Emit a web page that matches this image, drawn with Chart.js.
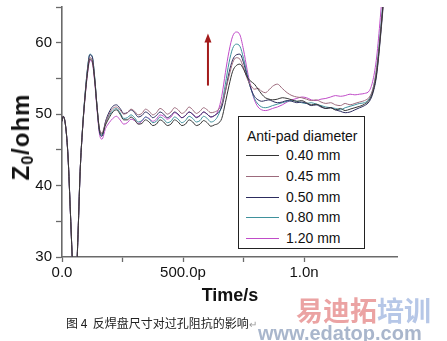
<!DOCTYPE html>
<html>
<head>
<meta charset="utf-8">
<script src="https://cdn.jsdelivr.net/npm/chart.js@4/dist/chart.umd.min.js"></script>
<style>
  html, body { margin: 0; padding: 0; background: #fff; }
  #wrap { position: relative; width: 447px; height: 341px; overflow: hidden; font-family: Arial, "Liberation Sans", sans-serif; }
  #chart { position: absolute; left: 0; top: 0; }
  .ov { position: absolute; white-space: nowrap; }
  #ytitle { left: 22px; top: 137px; font-weight: bold; font-size: 24px; letter-spacing: 1px; color: #111;
            transform: translate(-50%, -50%) rotate(-90deg); }
  #ytitle sub { font-size: 16px; vertical-align: -4px; }
  #xtitle { left: 230px; top: 295px; font-weight: bold; font-size: 18px; color: #111; transform: translate(-50%, -50%); }
  #legend { position: absolute; left: 238px; top: 116px; width: 127px; height: 133px; box-sizing: border-box;
            border: 1px solid #222; background: #fff; }
  #legend .t { position: absolute; left: 8px; top: 11px; font-size: 14px; color: #111; white-space: nowrap; }
  #legend .row { position: absolute; left: 7px; width: 110px; height: 16px; font-size: 14px; color: #111; white-space: nowrap; }
  #legend .row i { position: absolute; left: 0; top: 8px; width: 33px; height: 0; border-top: 1px solid; }
  #legend .row span { position: absolute; left: 40px; top: 0; white-space: nowrap; }
  #caption { left: 66px; top: 314px; font-family: "Noto Sans CJK SC", sans-serif; font-size: 12px; color: #222; }
  #caption em { font-style: normal; color: #999; font-size: 10px; }
  #wm1 { left: 296px; top: 295px; font-family: "Noto Sans CJK SC", sans-serif; font-weight: bold; font-size: 27px; line-height: 30px; opacity: 0.5; }
  #wm2 { left: 258px; top: 323px; font-weight: bold; font-size: 20px; line-height: 20px; color: #a9b6cc; }
</style>
</head>
<body>
<div id="wrap">
  <canvas id="chart" width="447" height="341"></canvas>
  <div class="ov" id="ytitle">Z<sub>0</sub>/ohm</div>
  <div class="ov" id="xtitle">Time/s</div>
  <div id="legend"></div>
  <div class="ov" id="caption">图 4&nbsp; 反焊盘尺寸对过孔阻抗的影响<em>↵</em></div>
  <div class="ov" id="wm1"><span style="color:#d84848">易迪拓</span><span style="color:#6f8fcf">培训</span></div>
  <div class="ov" id="wm2">www.edatop.com</div>
</div>
<script>
/* ---------- data (time in ps, impedance in ohm) ---------- */
const timePs = [0, 5, 15, 25, 35, 45, 55, 65, 75, 85, 95, 105, 115, 125, 135, 145, 155, 165,
  180, 195, 210, 225, 240, 255, 270, 285, 300, 315, 330, 345, 360, 375, 390, 405, 420, 435,
  450, 465, 480, 495, 510, 525, 540, 555, 570, 585, 600, 615, 630,
  645, 660, 675, 690, 705, 720, 735, 750, 765, 780, 795, 810, 825, 840, 855, 870,
  890, 910, 930, 950, 970, 990, 1010, 1030, 1050, 1070, 1090, 1110, 1130, 1150, 1170, 1190, 1210, 1230, 1250, 1270,
  1285, 1300, 1315, 1330, 1345];

const z040 = [49.0, 49.7, 48.3, 44.0, 36.0, 28.0, 24.0, 32.0, 42.0, 48.0, 52.3, 55.7, 57.7, 57.4, 54.8, 50.9, 47.8, 47.2,
  48.5, 49.5, 50.3, 50.6, 50.0, 49.2, 49.2, 49.6, 49.2, 48.6, 48.7, 49.2, 48.9, 48.4, 48.6, 49.2, 48.9, 48.4,
  48.6, 49.2, 48.9, 48.4, 48.6, 49.2, 48.9, 48.4, 48.6, 49.1, 48.8, 48.3, 48.5,
  48.7, 49.4, 51.6, 54.0, 56.0, 56.8, 57.0, 56.3, 55.2, 54.6, 54.2, 53.5, 52.8, 52.3, 52.1, 52.0,
  52.1, 52.3, 52.2, 52.0, 51.8, 51.9, 51.6, 51.3, 51.4, 51.1, 50.8, 50.9, 50.6, 50.8, 50.5, 50.7, 50.9, 51.1, 51.4, 52.0,
  53.2, 55.8, 60.8, 67.0, 74.5];

const z045 = [49.0, 49.7, 48.3, 44.0, 36.0, 28.0, 24.0, 32.0, 42.0, 48.0, 52.4, 55.9, 57.9, 57.6, 54.9, 51.0, 47.9, 47.4,
  48.8, 50.0, 50.8, 51.0, 50.6, 50.0, 50.2, 50.7, 50.4, 49.9, 50.1, 50.7, 50.4, 49.9, 50.2, 50.8, 50.5, 50.0,
  50.3, 50.9, 50.6, 50.1, 50.4, 51.0, 50.6, 50.1, 50.4, 50.9, 50.6, 50.2, 50.3,
  50.6, 51.4, 53.2, 55.3, 57.2, 57.9, 57.7, 56.5, 55.0, 54.0, 53.5, 53.6, 53.2, 53.0, 53.4, 53.9,
  54.2, 53.6, 53.0, 52.6, 52.4, 52.3, 52.1, 51.9, 52.0, 51.7, 51.5, 51.6, 51.3, 51.2, 51.5, 51.3, 51.5, 51.7, 51.9, 52.4,
  53.6, 56.3, 61.0, 67.0, 74.5];

const z050 = [49.0, 49.7, 48.3, 44.0, 36.0, 28.0, 24.0, 32.0, 42.0, 48.0, 52.6, 56.2, 58.3, 58.0, 55.1, 50.9, 47.5, 46.9,
  49.0, 50.3, 51.1, 51.3, 50.8, 50.1, 50.2, 50.6, 50.2, 49.6, 49.8, 50.3, 50.0, 49.5, 49.8, 50.3, 50.0, 49.5,
  49.8, 50.3, 50.0, 49.5, 49.8, 50.3, 50.0, 49.5, 49.8, 50.3, 50.0, 49.6, 49.8,
  50.2, 51.0, 53.2, 55.8, 57.6, 58.3, 58.4, 57.2, 55.3, 53.6, 52.5, 52.0, 51.8, 51.9, 52.0, 51.8,
  51.6, 51.7, 51.9, 51.8, 51.6, 51.7, 51.5, 51.2, 51.3, 51.0, 50.8, 50.9, 50.6, 50.4, 50.2, 50.3, 50.6, 50.9, 51.2, 51.8,
  53.0, 55.5, 60.5, 66.5, 74.0];

const z080 = [49.0, 49.7, 48.3, 44.0, 36.0, 28.0, 24.0, 32.0, 42.0, 48.1, 52.7, 56.3, 58.4, 58.1, 55.2, 51.0, 47.6, 47.0,
  48.8, 49.8, 50.5, 50.8, 50.2, 49.4, 49.5, 49.9, 49.5, 48.9, 49.1, 49.6, 49.3, 48.8, 49.0, 49.6, 49.3, 48.8,
  49.0, 49.6, 49.3, 48.8, 49.1, 49.7, 49.4, 48.9, 49.1, 49.7, 49.4, 48.9, 49.1,
  49.8, 51.3, 54.2, 57.2, 59.2, 59.8, 59.5, 57.8, 55.6, 53.6, 52.2, 51.4, 51.0, 50.9, 51.0, 51.2,
  51.4, 51.6, 51.8, 51.9, 51.8, 51.6, 51.5, 51.6, 51.4, 51.2, 51.0, 50.9, 50.8, 50.6, 50.9, 51.1, 51.3, 51.5, 51.6, 52.2,
  53.6, 56.5, 61.5, 67.5, 75.0];

const z120 = [49.0, 49.7, 48.3, 44.0, 36.0, 28.0, 24.0, 32.0, 42.0, 47.9, 52.2, 55.5, 57.5, 57.2, 54.5, 50.5, 47.2, 46.5,
  48.0, 48.8, 49.4, 49.7, 49.2, 48.6, 48.8, 49.3, 49.1, 48.7, 49.0, 49.6, 49.4, 49.0, 49.3, 49.9, 49.7, 49.3,
  49.6, 50.2, 49.9, 49.5, 49.8, 50.3, 50.0, 49.6, 49.8, 50.3, 50.0, 49.6, 49.8,
  50.5, 52.5, 55.8, 58.8, 60.9, 61.5, 61.1, 59.0, 56.2, 53.8, 52.0, 51.0, 50.6, 50.5, 50.6, 50.8,
  51.0, 51.3, 51.7, 52.0, 52.2, 52.4, 52.3, 52.0, 51.9, 52.1, 52.2, 52.4, 52.6, 52.5, 52.6, 52.8, 52.7, 52.8, 52.9, 53.3,
  54.8, 58.0, 63.5, 70.0, 78.0];

const seriesLabels = ['0.40 mm', '0.45 mm', '0.50 mm', '0.80 mm', '1.20 mm'];
const seriesValues = [z040, z045, z050, z080, z120];
const seriesColors = ['#333333', '#9c6a7c', '#2c2c5e', '#3f919c', '#c04cc8'];

const xMajorTicks = [0, 500, 1000];
const xMajorLabels = ['0.0', '500.0p', '1.0n'];
const yMajorTicks = [30, 40, 50, 60];
const yMajorLabels = ['30', '40', '50', '60'];

// arrow annotation: time, from Z, to Z
const arrowTime = 603;
const arrowFrom = 54.0;
const arrowTo = 61.3;

/* ---------- legend ---------- */
const legend = document.getElementById('legend');
legend.innerHTML = '<div class="t">Anti-pad diameter</div>' +
  seriesLabels.map((lab, i) =>
    `<div class="row" style="top:${30 + i * 20.8}px"><i style="border-color:${seriesColors[i]}"></i><span>${lab}</span></div>`
  ).join('');

/* ---------- arrow plugin ---------- */
const arrowPlugin = {
  id: 'arrow',
  afterDatasetsDraw(chart) {
    const { ctx, scales: { x, y } } = chart;
    const px = x.getPixelForValue(arrowTime);
    const y0 = y.getPixelForValue(arrowFrom);
    const y1 = y.getPixelForValue(arrowTo);
    ctx.save();
    ctx.strokeStyle = '#a31b1b';
    ctx.fillStyle = '#a31b1b';
    ctx.lineWidth = 2;
    ctx.beginPath();
    ctx.moveTo(px, y0);
    ctx.lineTo(px, y1 + 6);
    ctx.stroke();
    ctx.beginPath();
    ctx.moveTo(px, y1);
    ctx.lineTo(px - 3.5, y1 + 9);
    ctx.lineTo(px + 3.5, y1 + 9);
    ctx.closePath();
    ctx.fill();
    ctx.restore();
  }
};

/* ---------- chart ---------- */
const axisColor = '#6a6a6a';
const tickFont = { family: 'Arial, "Liberation Sans"', size: 15 };

new Chart(document.getElementById('chart').getContext('2d'), {
  type: 'line',
  data: {
    datasets: seriesValues.map((vals, i) => ({
      label: seriesLabels[i],
      data: timePs.map((t, k) => ({ x: t, y: vals[k] })),
      borderColor: seriesColors[i],
      borderWidth: 1,
      pointRadius: 0,
      fill: false,
      cubicInterpolationMode: 'monotone'
    }))
  },
  options: {
    responsive: false,
    animation: false,
    events: [],
    layout: { padding: { left: 0, right: 50, top: 7, bottom: 54 } },
    plugins: { legend: { display: false }, tooltip: { enabled: false } },
    scales: {
      x: {
        type: 'linear',
        min: 0,
        max: 1384,
        grid: { drawOnChartArea: false, tickLength: 5, tickColor: axisColor, tickWidth: 1.3 },
        border: { color: axisColor, width: 1.6 },
        afterBuildTicks: s => { s.ticks = s.ticks.filter(t => t.value % 250 === 0); },
        afterFit: s => { s.height = 30; s.paddingLeft = 0; s.paddingRight = 0; },
        ticks: {
          stepSize: 250,
          autoSkip: false,
          maxRotation: 0,
          padding: 2,
          color: '#111',
          font: tickFont,
          callback: v => { const k = xMajorTicks.indexOf(v); return k >= 0 ? xMajorLabels[k] : ''; }
        }
      },
      y: {
        min: 30,
        max: 65,
        grid: { drawOnChartArea: false, tickLength: 6, tickColor: axisColor, tickWidth: 1.3 },
        border: { color: axisColor, width: 1.6 },
        afterFit: s => { s.width = 62; s.paddingTop = 0; s.paddingBottom = 0; },
        ticks: {
          stepSize: 5,
          autoSkip: false,
          padding: 4,
          color: '#111',
          font: tickFont,
          callback: v => { const k = yMajorTicks.indexOf(v); return k >= 0 ? yMajorLabels[k] : ''; }
        }
      }
    }
  },
  plugins: [arrowPlugin]
});
</script>
</body>
</html>
